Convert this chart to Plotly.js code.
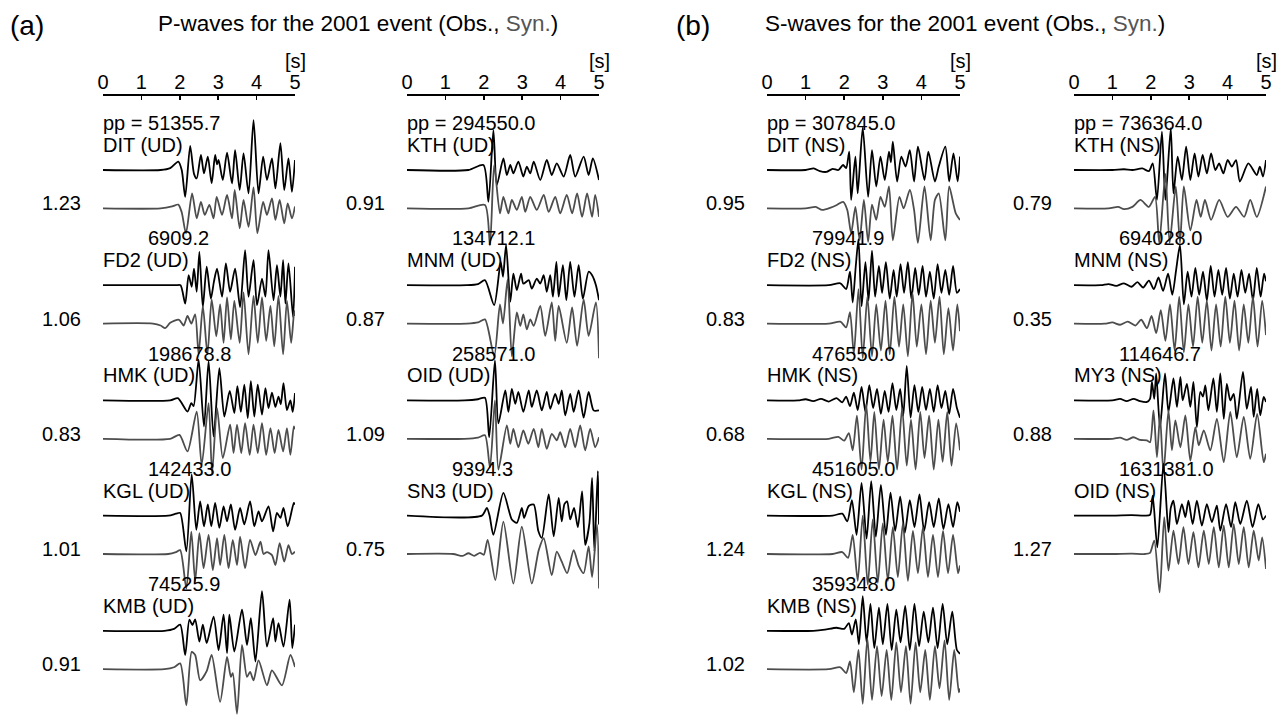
<!DOCTYPE html>
<html>
<head>
<meta charset="utf-8">
<script src="https://cdn.plot.ly/plotly-3.0.1.min.js"></script>
<style>
  html, body { margin: 0; padding: 0; background: #ffffff; }
  #chart { width: 1286px; height: 717px; }
</style>
</head>
<body>
<div id="chart"></div>
<script>
// ---------- time axis ----------
const timeTicks = [0, 1, 2, 3, 4, 5];

// ---------- station labels, peak-to-peak amplitudes, amplitude ratios ----------
const pLeftStations  = ["DIT (UD)", "FD2 (UD)", "HMK (UD)", "KGL (UD)", "KMB (UD)"];
const pLeftPeaks     = ["51355.7", "6909.2", "198678.8", "142433.0", "74525.9"];
const pLeftRatios    = [1.23, 1.06, 0.83, 1.01, 0.91];

const pRightStations = ["KTH (UD)", "MNM (UD)", "OID (UD)", "SN3 (UD)"];
const pRightPeaks    = ["294550.0", "134712.1", "258571.0", "9394.3"];
const pRightRatios   = [0.91, 0.87, 1.09, 0.75];

const sLeftStations  = ["DIT (NS)", "FD2 (NS)", "HMK (NS)", "KGL (NS)", "KMB (NS)"];
const sLeftPeaks     = ["307845.0", "79941.9", "476550.0", "451605.0", "359348.0"];
const sLeftRatios    = [0.95, 0.83, 0.68, 1.24, 1.02];

const sRightStations = ["KTH (NS)", "MNM (NS)", "MY3 (NS)", "OID (NS)"];
const sRightPeaks    = ["736364.0", "694028.0", "114646.7", "1631381.0"];
const sRightRatios   = [0.79, 0.35, 0.88, 1.27];

// ---------- waveforms: [time (s), normalised amplitude] ----------
// P-waves, vertical component
const DIT_UD_obs = [[0,0],[1.5,0],[1.75,0.05],[1.96,0.22],[2.05,0.0],[2.14,-0.70],[2.27,0.63],[2.37,-0.10],[2.44,-0.22],[2.55,0.39],[2.63,-0.09],[2.73,0.35],[2.83,-0.35],[2.92,0.39],[2.97,0.15],[3.01,0.26],[3.12,-0.26],[3.23,0.45],[3.36,-0.35],[3.44,0.52],[3.56,-0.52],[3.66,0.43],[3.79,-0.61],[3.92,1.30],[4.05,-0.61],[4.17,0.35],[4.27,-0.26],[4.40,0.30],[4.49,-0.48],[4.62,0.70],[4.72,-0.52],[4.83,0.30],[4.92,-0.57],[5.0,0.26]];
const DIT_UD_syn = [[0,0],[1.5,0],[1.8,0.05],[1.96,0.10],[2.05,-0.10],[2.16,-0.65],[2.32,0.39],[2.44,-0.26],[2.55,0.17],[2.65,-0.17],[2.77,0.09],[2.88,-0.26],[2.96,0.30],[3.10,-0.17],[3.23,0.35],[3.36,-0.26],[3.43,0.48],[3.56,-0.52],[3.66,0.22],[3.79,-0.48],[3.92,0.55],[4.02,-0.65],[4.17,0.17],[4.27,-0.17],[4.40,0.26],[4.49,-0.30],[4.60,0.22],[4.72,-0.39],[4.81,0.13],[4.92,-0.26],[5.0,0.05]];

const FD2_UD_obs = [[0,0],[1.9,0],[2.02,0.0],[2.14,-0.48],[2.23,0.26],[2.31,-0.04],[2.37,0.43],[2.44,-0.17],[2.51,0.87],[2.60,-0.57],[2.70,0.48],[2.81,-0.35],[2.89,0.10],[2.97,0.43],[3.10,-0.30],[3.20,0.57],[3.31,-0.17],[3.44,0.43],[3.57,-0.57],[3.70,0.91],[3.79,-0.30],[3.92,0.65],[4.01,-0.52],[4.14,0.17],[4.23,-0.30],[4.31,0.91],[4.44,-0.39],[4.53,0.52],[4.62,-0.30],[4.69,0.65],[4.75,-0.48],[4.83,0.57],[4.95,-0.83],[5.0,0.48]];
const FD2_UD_syn = [[0,0],[1.3,0],[1.5,-0.05],[1.62,-0.12],[1.75,0.02],[1.98,0.10],[2.10,-0.05],[2.20,0.20],[2.30,0.0],[2.40,0.24],[2.49,-0.80],[2.60,0.46],[2.72,-0.80],[2.83,0.63],[2.95,-0.33],[3.05,0.50],[3.14,-0.50],[3.23,0.68],[3.33,-0.41],[3.42,0.59],[3.56,-0.50],[3.66,0.81],[3.79,-0.80],[3.92,0.72],[4.03,-0.50],[4.14,0.68],[4.25,-0.45],[4.36,0.46],[4.46,-0.59],[4.57,0.72],[4.69,-0.80],[4.79,0.59],[4.90,-0.50],[4.98,0.33],[5.0,0.20]];

const HMK_UD_obs = [[0,0],[1.75,0],[1.95,0.06],[2.20,-0.29],[2.30,-0.07],[2.36,-0.15],[2.49,1.06],[2.63,-0.68],[2.75,1.02],[2.88,-0.94],[3.03,0.84],[3.16,-0.42],[3.30,0.25],[3.42,-0.33],[3.50,0.37],[3.59,-0.30],[3.68,0.41],[3.77,-0.46],[3.85,0.50],[3.94,-0.42],[4.03,0.41],[4.14,-0.37],[4.23,0.32],[4.31,-0.20],[4.40,0.20],[4.49,-0.17],[4.57,0.10],[4.63,-0.10],[4.70,0.45],[4.79,-0.25],[4.88,0.0],[4.94,-0.30],[5.0,0.19]];
const HMK_UD_syn = [[0,0],[1.75,0],[1.99,0.10],[2.20,-0.33],[2.44,0.71],[2.57,-0.68],[2.75,0.93],[2.84,-0.90],[2.97,0.80],[3.12,-0.50],[3.31,0.37],[3.40,-0.37],[3.49,0.37],[3.60,-0.37],[3.70,0.41],[3.82,-0.42],[3.92,0.37],[4.03,-0.37],[4.14,0.41],[4.25,-0.42],[4.36,0.28],[4.47,-0.37],[4.57,0.23],[4.69,-0.33],[4.79,0.28],[4.88,-0.42],[4.97,0.32],[5.0,0.25]];

const KGL_UD_obs = [[0,0],[1.7,0],[1.9,0.05],[2.01,0.07],[2.17,-0.93],[2.31,1.07],[2.43,-0.37],[2.53,0.37],[2.63,-0.28],[2.73,0.29],[2.82,-0.28],[2.92,0.33],[3.03,-0.32],[3.14,0.24],[3.23,-0.15],[3.33,0.29],[3.44,-0.37],[3.57,0.20],[3.68,-0.23],[3.83,0.37],[3.94,-0.28],[4.05,0.11],[4.14,-0.15],[4.31,0.24],[4.43,-0.41],[4.53,0.07],[4.62,-0.06],[4.70,0.20],[4.81,-0.28],[4.97,0.33],[5.0,0.29]];
const KGL_UD_syn = [[0,0],[1.7,0],[1.9,0.05],[2.01,0.10],[2.17,-0.90],[2.30,0.58],[2.40,-0.70],[2.51,0.54],[2.62,-0.37],[2.75,0.50],[2.86,-0.42],[2.97,0.41],[3.05,-0.29],[3.16,0.50],[3.27,-0.37],[3.38,0.37],[3.49,-0.29],[3.57,0.45],[3.70,-0.37],[3.83,0.37],[3.97,-0.03],[4.10,0.32],[4.18,0.0],[4.27,0.05],[4.40,-0.03],[4.49,-0.29],[4.60,0.28],[4.72,-0.20],[4.83,0.23],[4.92,0.0],[5.0,0.06]];

const KMB_UD_obs = [[0,0],[1.6,0],[1.85,0.05],[2.01,0.16],[2.14,-0.63],[2.25,0.29],[2.33,0.15],[2.40,0.30],[2.51,-0.28],[2.60,0.16],[2.70,-0.32],[2.88,0.37],[3.01,-0.50],[3.14,0.42],[3.23,-0.58],[3.29,0.42],[3.42,-0.54],[3.62,0.55],[3.75,-0.37],[3.85,0.33],[3.97,-0.80],[4.14,1.03],[4.27,-0.41],[4.43,0.33],[4.49,-0.28],[4.57,0.20],[4.70,-0.41],[4.86,0.81],[4.93,-0.45],[5.0,0.16]];
const KMB_UD_syn = [[0,0],[1.6,0],[1.85,0.05],[2.01,0.15],[2.17,-0.94],[2.31,0.45],[2.40,0.37],[2.53,-0.29],[2.70,-0.05],[2.83,0.37],[3.05,-0.85],[3.23,0.32],[3.33,-0.20],[3.38,-0.10],[3.49,-1.16],[3.62,0.63],[3.75,-0.20],[3.83,-0.07],[3.92,-0.29],[4.05,0.23],[4.27,-0.42],[4.40,-0.03],[4.66,-0.42],[4.88,0.37],[5.0,0.06]];

const KTH_UD_obs = [[0,0],[1.6,0],[1.99,0.13],[2.12,-0.83],[2.25,1.04],[2.34,-0.39],[2.51,0.30],[2.60,-0.13],[2.69,0.13],[2.77,-0.09],[2.90,0.22],[3.03,-0.17],[3.12,0.09],[3.21,-0.09],[3.30,0.22],[3.47,-0.26],[3.64,0.26],[3.77,-0.13],[3.90,0.17],[4.08,-0.17],[4.25,0.39],[4.38,-0.17],[4.60,0.35],[4.73,-0.13],[4.84,0.30],[5.0,-0.26]];
const KTH_UD_syn = [[0,0],[1.6,0],[2.03,0.09],[2.16,-0.96],[2.27,1.13],[2.42,-0.13],[2.51,0.30],[2.64,-0.13],[2.73,0.22],[2.86,-0.04],[2.99,0.30],[3.08,-0.09],[3.21,0.30],[3.38,-0.04],[3.56,0.35],[3.69,-0.09],[3.86,0.30],[3.99,-0.13],[4.16,0.35],[4.30,-0.13],[4.43,0.39],[4.56,-0.22],[4.69,0.39],[4.82,-0.22],[4.90,0.35],[5.0,-0.22]];

const MNM_UD_obs = [[0,0],[1.56,0],[1.85,0.03],[2.03,0.13],[2.27,-0.52],[2.44,0.61],[2.50,0.22],[2.58,1.05],[2.69,-0.43],[2.77,0.30],[2.86,-0.13],[2.97,0.30],[3.03,0.04],[3.17,0.13],[3.25,-0.09],[3.38,0.17],[3.47,0.04],[3.56,0.26],[3.64,-0.17],[3.73,0.26],[3.80,-0.30],[3.89,0.61],[3.95,-0.30],[4.06,0.52],[4.15,-0.39],[4.25,0.61],[4.36,-0.30],[4.47,0.52],[4.58,-0.35],[4.73,0.35],[4.82,0.26],[4.92,0.0],[5.0,-0.39]];
const MNM_UD_syn = [[0,0],[1.56,0],[1.85,0.03],[2.03,0.11],[2.27,-0.85],[2.42,0.50],[2.50,0.0],[2.62,1.15],[2.73,-0.85],[2.86,0.29],[2.95,-0.06],[3.03,0.24],[3.12,-0.15],[3.21,0.11],[3.30,-0.06],[3.47,0.46],[3.60,-0.32],[3.77,0.55],[3.86,-0.45],[3.95,0.46],[4.16,-0.50],[4.30,0.42],[4.43,-0.58],[4.60,0.63],[4.73,-0.32],[4.92,0.55],[5.0,-0.90]];

const OID_UD_obs = [[0,0],[1.5,0],[1.85,0.03],[2.03,0.07],[2.14,-0.96],[2.29,1.04],[2.38,-0.60],[2.56,0.26],[2.64,-0.30],[2.73,0.30],[2.82,-0.09],[2.90,0.22],[3.03,-0.30],[3.17,0.26],[3.25,-0.17],[3.38,0.26],[3.51,-0.26],[3.64,0.22],[3.73,-0.22],[3.86,0.17],[3.95,-0.09],[4.03,0.26],[4.12,-0.39],[4.25,0.17],[4.34,-0.30],[4.47,0.26],[4.60,-0.45],[4.73,0.22],[4.86,-0.26],[5.0,-0.26]];
const OID_UD_syn = [[0,0],[1.5,0],[1.85,0.03],[2.03,0.09],[2.16,-0.75],[2.29,1.00],[2.38,-0.80],[2.60,0.35],[2.69,-0.13],[2.77,0.26],[2.90,-0.22],[3.03,0.22],[3.16,-0.13],[3.30,0.26],[3.42,-0.22],[3.51,0.26],[3.64,-0.26],[3.77,0.13],[3.90,-0.04],[3.99,0.17],[4.12,-0.22],[4.25,0.26],[4.38,-0.22],[4.51,0.35],[4.64,-0.30],[4.77,0.26],[4.90,-0.22],[5.0,0.04]];

const SN3_UD_obs = [[0,0],[1.95,0],[2.08,0.20],[2.15,0.0],[2.25,-0.50],[2.51,0.59],[2.73,-0.10],[2.86,-0.19],[2.99,0.20],[3.05,-0.06],[3.17,0.25],[3.30,0.29],[3.42,-0.40],[3.51,-0.58],[3.69,0.55],[3.82,-0.54],[3.95,0.46],[4.03,-0.15],[4.10,0.30],[4.17,0.37],[4.25,-0.10],[4.35,0.20],[4.45,-0.30],[4.56,0.63],[4.64,-0.76],[4.75,-0.20],[4.82,0.98],[4.88,-0.93],[4.97,1.16],[5.0,-0.23]];
const SN3_UD_syn = [[0,0],[1.2,0],[1.45,-0.05],[1.6,0.02],[1.75,-0.05],[1.9,0.03],[2.0,-0.02],[2.10,0.37],[2.30,-0.68],[2.51,0.84],[2.77,-0.77],[2.99,0.71],[3.25,-0.77],[3.43,0.10],[3.56,0.41],[3.77,-0.55],[3.90,0.06],[4.03,-0.20],[4.17,-0.50],[4.34,0.10],[4.47,-0.30],[4.60,-0.50],[4.73,0.20],[4.82,-0.60],[4.95,0.76],[5.0,-0.90]];

// S-waves, north-south component
const DIT_NS_obs = [[0,0],[1.0,0],[1.21,0.04],[1.37,-0.03],[1.54,-0.05],[1.70,0.03],[1.85,0.0],[1.97,0.13],[2.05,0.05],[2.13,0.48],[2.18,-0.78],[2.29,0.35],[2.35,-0.61],[2.48,1.10],[2.62,-0.70],[2.72,0.52],[2.83,-0.43],[2.94,0.35],[3.05,-0.26],[3.16,0.48],[3.21,0.20],[3.26,0.74],[3.37,-0.30],[3.48,0.35],[3.59,0.09],[3.70,0.52],[3.81,-0.30],[3.91,0.61],[4.08,-0.26],[4.18,0.48],[4.35,-0.30],[4.45,0.09],[4.62,0.61],[4.72,-0.30],[4.83,0.43],[4.94,-0.30],[5.0,0.35]];
const DIT_NS_syn = [[0,0],[1.0,0],[1.26,0.04],[1.43,-0.04],[1.65,0.02],[1.81,0.09],[1.97,0.17],[2.08,-0.04],[2.18,-0.65],[2.29,0.04],[2.40,-0.83],[2.51,0.22],[2.62,-0.87],[2.72,0.10],[2.83,-0.30],[2.94,0.30],[3.05,0.04],[3.16,0.57],[3.26,-0.83],[3.43,0.30],[3.54,0.0],[3.70,0.48],[3.81,-0.04],[3.91,-0.90],[4.08,0.57],[4.24,-0.83],[4.35,0.22],[4.45,0.39],[4.62,-0.83],[4.72,0.57],[4.89,-0.13],[5.0,-0.30]];

const FD2_NS_obs = [[0,0],[1.6,0],[1.9,0.05],[2.05,-0.10],[2.15,0.35],[2.22,-0.45],[2.30,0.50],[2.37,1.20],[2.45,-0.55],[2.55,0.60],[2.63,-0.40],[2.72,0.90],[2.80,-0.30],[2.90,0.50],[2.98,-0.20],[3.08,0.60],[3.18,-0.35],[3.28,0.40],[3.36,-0.30],[3.46,0.55],[3.55,-0.20],[3.65,0.60],[3.74,-0.35],[3.84,0.45],[3.93,-0.25],[4.03,0.50],[4.12,-0.30],[4.22,0.35],[4.32,-0.35],[4.42,0.55],[4.52,-0.20],[4.62,0.40],[4.72,-0.25],[4.82,0.50],[4.92,-0.20],[5.0,-0.10]];
const FD2_NS_syn = [[0,0],[1.6,0],[1.9,0.05],[2.05,-0.10],[2.15,0.30],[2.25,-0.80],[2.37,0.90],[2.48,-0.90],[2.60,0.70],[2.72,-0.85],[2.83,0.50],[2.95,-0.70],[3.07,0.60],[3.18,-0.80],[3.30,0.70],[3.42,-0.60],[3.53,0.50],[3.65,-0.85],[3.77,0.80],[3.88,-0.60],[4.00,0.50],[4.12,-0.80],[4.24,0.60],[4.35,-0.50],[4.47,0.70],[4.58,-0.80],[4.70,0.40],[4.82,-0.70],[4.93,0.50],[5.0,-0.20]];

const HMK_NS_obs = [[0,0],[0.8,0],[1.0,0.03],[1.2,-0.02],[1.4,0.04],[1.6,-0.03],[1.8,0.06],[1.95,-0.05],[2.05,0.10],[2.15,-0.15],[2.25,0.20],[2.35,-0.25],[2.45,0.35],[2.55,-0.30],[2.65,0.40],[2.75,-0.20],[2.85,0.30],[2.95,-0.35],[3.05,0.25],[3.15,-0.30],[3.25,0.45],[3.35,-0.25],[3.45,0.30],[3.53,-0.40],[3.62,0.90],[3.72,-0.45],[3.82,0.40],[3.92,-0.30],[4.02,0.35],[4.12,-0.25],[4.22,0.30],[4.32,-0.30],[4.42,0.40],[4.52,-0.20],[4.62,0.25],[4.72,-0.35],[4.82,0.30],[4.92,-0.20],[5.0,-0.45]];
const HMK_NS_syn = [[0,0],[1.6,0],[1.85,0.05],[2.0,-0.05],[2.12,0.15],[2.22,-0.30],[2.33,0.60],[2.45,-0.80],[2.57,0.90],[2.68,-0.60],[2.78,0.70],[2.90,-0.80],[3.02,0.50],[3.13,-0.60],[3.25,0.60],[3.37,-0.80],[3.50,0.80],[3.62,-0.70],[3.73,0.50],[3.85,-0.80],[3.97,0.70],[4.08,-0.50],[4.20,0.60],[4.32,-0.80],[4.44,0.50],[4.55,-0.60],[4.67,0.70],[4.78,-0.70],[4.90,0.40],[5.0,-0.30]];

const KGL_NS_obs = [[0,0],[1.7,0],[1.95,0.05],[2.08,-0.15],[2.20,0.40],[2.32,-0.50],[2.45,0.85],[2.58,-0.60],[2.70,0.90],[2.82,-0.55],[2.95,0.80],[3.08,-0.50],[3.20,0.60],[3.32,-0.40],[3.45,0.50],[3.57,-0.45],[3.70,0.40],[3.82,-0.30],[3.95,0.55],[4.07,-0.40],[4.20,0.35],[4.32,-0.30],[4.45,0.45],[4.57,-0.35],[4.70,0.30],[4.82,-0.30],[4.93,0.35],[5.0,0.10]];
const KGL_NS_syn = [[0,0],[1.7,0],[1.95,0.05],[2.10,-0.10],[2.22,0.50],[2.35,-0.70],[2.48,1.00],[2.61,-0.80],[2.74,0.90],[2.87,-0.75],[3.00,0.80],[3.13,-0.70],[3.26,0.70],[3.39,-0.60],[3.52,0.80],[3.65,-0.70],[3.78,0.60],[3.91,-0.50],[4.04,0.70],[4.17,-0.60],[4.30,0.50],[4.43,-0.60],[4.56,0.60],[4.69,-0.50],[4.82,0.50],[4.95,-0.50],[5.0,-0.30]];

const KMB_NS_obs = [[0,0],[1.2,0],[1.5,0.03],[1.8,0.08],[2.0,0.05],[2.12,0.20],[2.20,-0.10],[2.30,0.30],[2.38,-0.35],[2.48,0.90],[2.58,-0.30],[2.68,0.70],[2.78,-0.45],[2.90,0.60],[3.00,-0.35],[3.12,0.70],[3.23,-0.50],[3.35,0.55],[3.46,-0.30],[3.58,0.65],[3.70,-0.50],[3.82,0.70],[3.94,-0.40],[4.06,0.50],[4.18,-0.30],[4.30,0.60],[4.42,-0.45],[4.55,0.70],[4.67,-0.35],[4.80,0.50],[4.92,-0.50],[5.0,-0.60]];
const KMB_NS_syn = [[0,0],[1.6,0],[1.9,0.05],[2.05,-0.10],[2.15,0.20],[2.25,-0.60],[2.37,0.50],[2.48,-0.90],[2.60,0.80],[2.72,-0.80],[2.85,0.60],[2.97,-0.70],[3.10,0.50],[3.22,-0.80],[3.35,0.70],[3.47,-0.60],[3.60,0.60],[3.72,-0.90],[3.85,0.70],[3.97,-0.60],[4.10,0.50],[4.22,-0.80],[4.35,0.60],[4.47,-0.50],[4.60,0.75],[4.72,-0.80],[4.85,0.50],[4.97,-0.60],[5.0,-0.50]];

const KTH_NS_obs = [[0,0],[1.0,0],[1.30,0.02],[1.52,0.0],[1.78,0.04],[1.95,-0.03],[2.05,0.17],[2.16,-0.78],[2.29,1.00],[2.38,-0.78],[2.52,1.09],[2.59,-0.61],[2.70,0.35],[2.81,-0.26],[2.92,0.61],[3.03,-0.26],[3.14,0.43],[3.24,-0.17],[3.35,0.39],[3.46,-0.09],[3.57,0.43],[3.68,0.0],[3.78,0.17],[3.89,-0.09],[4.00,0.26],[4.11,0.09],[4.22,0.26],[4.32,-0.30],[4.54,0.17],[4.76,-0.13],[4.84,0.09],[4.92,-0.17],[5.0,0.26]];
const KTH_NS_syn = [[0,0],[0.9,0],[1.15,0.04],[1.30,-0.02],[1.52,0.04],[1.73,0.22],[1.95,0.04],[2.11,0.30],[2.22,-0.90],[2.38,0.90],[2.49,-0.90],[2.65,0.57],[2.76,-0.90],[2.86,0.57],[3.03,-0.57],[3.19,0.22],[3.30,-0.22],[3.41,0.22],[3.57,-0.30],[3.78,0.22],[4.00,-0.22],[4.22,0.04],[4.43,-0.22],[4.59,0.22],[4.76,-0.22],[5.0,0.57]];

const MNM_NS_obs = [[0,0],[0.7,0],[0.9,0.03],[1.1,-0.02],[1.3,0.05],[1.5,-0.04],[1.65,0.08],[1.8,-0.06],[1.95,0.12],[2.08,-0.10],[2.20,0.20],[2.32,-0.15],[2.45,0.30],[2.56,-0.25],[2.66,0.40],[2.76,1.05],[2.86,-0.50],[2.96,0.35],[3.06,-0.30],[3.16,0.45],[3.26,-0.25],[3.36,0.35],[3.46,-0.40],[3.56,0.50],[3.66,-0.30],[3.76,0.40],[3.86,-0.25],[3.96,0.45],[4.06,-0.35],[4.16,0.30],[4.26,-0.30],[4.36,0.40],[4.46,-0.20],[4.56,0.30],[4.66,-0.40],[4.76,0.45],[4.86,-0.30],[4.95,0.30],[5.0,0.10]];
const MNM_NS_syn = [[0,0],[0.8,0],[1.0,0.03],[1.2,-0.03],[1.4,0.05],[1.6,-0.05],[1.75,0.10],[1.9,-0.12],[2.02,0.20],[2.14,-0.25],[2.26,0.35],[2.38,-0.45],[2.50,0.50],[2.62,-0.70],[2.74,0.70],[2.86,-0.75],[2.98,0.50],[3.10,-0.60],[3.22,0.70],[3.34,-0.50],[3.46,0.60],[3.58,-0.70],[3.70,0.50],[3.82,-0.60],[3.94,0.70],[4.06,-0.50],[4.18,0.60],[4.30,-0.70],[4.42,0.50],[4.54,-0.50],[4.66,0.70],[4.78,-0.60],[4.90,0.60],[5.0,-0.30]];

const MY3_NS_obs = [[0,0],[1.0,0],[1.20,0.04],[1.37,-0.02],[1.55,0.04],[1.72,-0.02],[1.90,-0.04],[1.98,0.04],[2.03,0.48],[2.09,0.04],[2.14,0.70],[2.24,-0.70],[2.37,0.70],[2.46,-0.30],[2.59,0.57],[2.68,-0.17],[2.77,0.61],[2.83,0.0],[2.94,0.43],[3.03,-0.17],[3.11,0.48],[3.20,-0.70],[3.29,0.22],[3.36,0.10],[3.42,0.39],[3.50,-0.26],[3.63,0.57],[3.72,-0.30],[3.81,0.70],[3.90,-0.48],[3.98,0.43],[4.07,0.0],[4.16,0.17],[4.24,-0.48],[4.40,0.74],[4.50,-0.22],[4.61,0.35],[4.68,-0.43],[4.77,0.30],[4.85,-0.39],[4.94,0.09],[5.0,-0.04]];
const MY3_NS_syn = [[0,0],[1.0,0],[1.20,0.03],[1.37,-0.03],[1.55,0.04],[1.72,-0.03],[1.90,-0.04],[1.98,-0.09],[2.07,0.74],[2.16,-0.48],[2.24,0.61],[2.33,-0.90],[2.46,0.74],[2.55,-0.30],[2.64,0.48],[2.77,-0.22],[2.90,0.61],[3.03,-0.57],[3.16,0.30],[3.25,-0.17],[3.38,0.22],[3.55,-0.30],[3.72,0.52],[3.90,-0.61],[4.07,0.70],[4.24,-0.48],[4.42,0.57],[4.59,-0.52],[4.77,0.65],[4.94,-0.61],[5.0,-0.39]];

const OID_NS_obs = [[0,0],[1.0,0],[1.5,0.01],[1.85,0.0],[1.98,0.02],[2.05,0.52],[2.17,-0.83],[2.33,1.35],[2.46,-0.43],[2.52,0.20],[2.59,0.39],[2.68,-0.22],[2.81,0.30],[2.90,-0.04],[2.98,0.39],[3.09,-0.22],[3.20,0.39],[3.33,-0.26],[3.46,0.30],[3.59,-0.17],[3.72,0.26],[3.81,-0.39],[3.96,0.30],[4.09,-0.30],[4.20,0.35],[4.33,-0.22],[4.50,0.39],[4.65,-0.30],[4.80,0.30],[4.92,-0.10],[5.0,0.0]];
const OID_NS_syn = [[0,0],[1.0,0],[1.5,0.01],[1.85,0.0],[1.98,0.03],[2.09,0.35],[2.23,-1.00],[2.35,0.96],[2.46,-0.43],[2.59,0.61],[2.72,-0.26],[2.85,0.70],[2.98,-0.26],[3.11,0.57],[3.24,-0.35],[3.38,0.61],[3.51,-0.26],[3.64,0.70],[3.77,-0.35],[3.90,0.74],[4.03,-0.35],[4.16,0.78],[4.29,-0.26],[4.42,0.70],[4.55,-0.35],[4.68,0.61],[4.81,-0.17],[4.90,0.43],[5.0,-0.39]];

// ---------- drawing ----------
const W = 1286, H = 717;
const FONT = '"Liberation Sans", Arial, Helvetica, sans-serif';
const OBS_COLOR = '#000000';
const SYN_COLOR = '#4d4d4d';
const PX_PER_UNIT = 38.4;      // vertical pixels per amplitude unit
const FIRST_BASE_PX = 170;     // baseline of the first observed record
const ROW_UNITS = 3;           // vertical spacing between stations
const LABEL_SIZE = 20;

const columns = [
  { axis: 'x',  px: [103, 295],  stations: pLeftStations,  peaks: pLeftPeaks,  ratios: pLeftRatios,
    obs: [DIT_UD_obs, FD2_UD_obs, HMK_UD_obs, KGL_UD_obs, KMB_UD_obs],
    syn: [DIT_UD_syn, FD2_UD_syn, HMK_UD_syn, KGL_UD_syn, KMB_UD_syn] },
  { axis: 'x2', px: [407, 599],  stations: pRightStations, peaks: pRightPeaks, ratios: pRightRatios,
    obs: [KTH_UD_obs, MNM_UD_obs, OID_UD_obs, SN3_UD_obs],
    syn: [KTH_UD_syn, MNM_UD_syn, OID_UD_syn, SN3_UD_syn] },
  { axis: 'x3', px: [767, 960],  stations: sLeftStations,  peaks: sLeftPeaks,  ratios: sLeftRatios,
    obs: [DIT_NS_obs, FD2_NS_obs, HMK_NS_obs, KGL_NS_obs, KMB_NS_obs],
    syn: [DIT_NS_syn, FD2_NS_syn, HMK_NS_syn, KGL_NS_syn, KMB_NS_syn] },
  { axis: 'x4', px: [1074, 1266], stations: sRightStations, peaks: sRightPeaks, ratios: sRightRatios,
    obs: [KTH_NS_obs, MNM_NS_obs, MY3_NS_obs, OID_NS_obs],
    syn: [KTH_NS_syn, MNM_NS_syn, MY3_NS_syn, OID_NS_syn] }
];

const traces = [];
const annotations = [];
const layout = {
  width: W, height: H,
  margin: { l: 0, r: 0, t: 0, b: 0 },
  paper_bgcolor: '#ffffff', plot_bgcolor: 'rgba(0,0,0,0)',
  showlegend: false,
  font: { family: FONT, color: '#000000', size: LABEL_SIZE },
  yaxis: {
    domain: [0, 1],
    range: [-(H - FIRST_BASE_PX) / PX_PER_UNIT, FIRST_BASE_PX / PX_PER_UNIT],
    visible: false, fixedrange: true
  },
  annotations: annotations
};

function timeAxis(px) {
  return {
    domain: [px[0] / W, px[1] / W],
    range: [0, 5],
    anchor: 'free', position: 1 - 94 / H, side: 'top',
    tickvals: timeTicks, ticktext: timeTicks.map(String),
    ticks: 'inside', ticklen: 4, tickwidth: 1.5, tickcolor: '#000000',
    ticklabelstandoff: -3,
    showline: true, linecolor: '#000000', linewidth: 1.5,
    showgrid: false, zeroline: false, fixedrange: true,
    tickfont: { family: FONT, size: LABEL_SIZE, color: '#000000' }
  };
}

function addRecord(axis, pts, base, color) {
  traces.push({
    type: 'scatter', mode: 'lines', xaxis: axis, yaxis: 'y',
    x: pts.map(p => p[0]),
    y: pts.map(p => base + p[1]),
    line: { color: color, width: 1.8, shape: 'spline', smoothing: 0.7 },
    hoverinfo: 'skip'
  });
}

columns.forEach(col => {
  const axisKey = col.axis === 'x' ? 'xaxis' : 'xaxis' + col.axis.slice(1);
  layout[axisKey] = timeAxis(col.px);

  annotations.push({
    xref: col.axis, yref: 'paper', x: 5, y: 1 - 61 / H,
    text: '[s]', showarrow: false, xanchor: 'center', yanchor: 'middle',
    font: { size: LABEL_SIZE }
  });

  col.stations.forEach((name, r) => {
    const obsBase = -ROW_UNITS * r;
    const synBase = obsBase - 1;
    addRecord(col.axis, col.obs[r], obsBase, OBS_COLOR);
    addRecord(col.axis, col.syn[r], synBase, SYN_COLOR);

    annotations.push({
      xref: col.axis, yref: 'y', x: r === 0 ? 0 : 1.17, y: obsBase + 1.22,
      text: r === 0 ? 'pp = ' + col.peaks[r] : col.peaks[r],
      showarrow: false, xanchor: 'left', yanchor: 'middle', xshift: -2,
      font: { size: LABEL_SIZE }
    });
    annotations.push({
      xref: col.axis, yref: 'y', x: 0, y: obsBase + 0.65,
      text: name, showarrow: false, xanchor: 'left', yanchor: 'middle', xshift: -2,
      font: { size: LABEL_SIZE }
    });
    // amplitude ratio, placed just left of the record start
    annotations.push({
      xref: col.axis, yref: 'y', x: 0, y: synBase + 0.13, xshift: -20,
      text: col.ratios[r].toFixed(2), showarrow: false, xanchor: 'right', yanchor: 'middle',
      font: { size: LABEL_SIZE }
    });
  });
});

// panel letters and headings
annotations.push(
  { xref: 'paper', yref: 'paper', x: 8 / W, y: 1 - 25 / H, text: '(a)', showarrow: false,
    xanchor: 'left', yanchor: 'middle', font: { size: 28 } },
  { xref: 'paper', yref: 'paper', x: 674 / W, y: 1 - 25 / H, text: '(b)', showarrow: false,
    xanchor: 'left', yanchor: 'middle', font: { size: 28 } },
  { xref: 'paper', yref: 'paper', x: 358 / W, y: 1 - 23 / H, showarrow: false,
    xanchor: 'center', yanchor: 'middle', font: { size: 22.5 },
    text: 'P-waves for the 2001 event (Obs., <span style="color:#555555">Syn.</span>)' },
  { xref: 'paper', yref: 'paper', x: 965 / W, y: 1 - 23 / H, showarrow: false,
    xanchor: 'center', yanchor: 'middle', font: { size: 22.5 },
    text: 'S-waves for the 2001 event (Obs., <span style="color:#555555">Syn.</span>)' }
);

Plotly.newPlot('chart', traces, layout, { staticPlot: true, displayModeBar: false });
</script>
</body>
</html>
